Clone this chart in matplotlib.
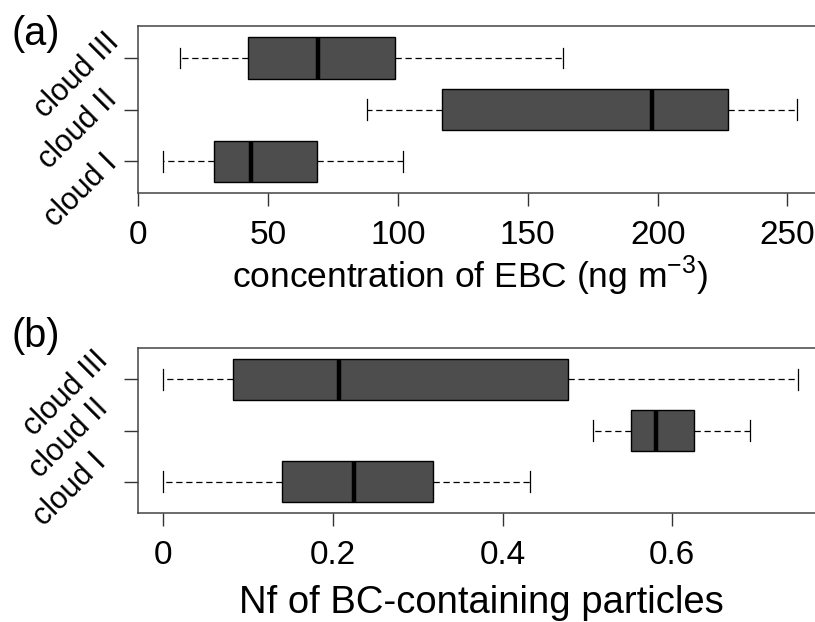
import matplotlib
matplotlib.use('Agg')
import matplotlib.pyplot as plt
from matplotlib.transforms import ScaledTranslation

plt.rcParams['font.family'] = ['Liberation Sans', 'DejaVu Sans']
plt.rcParams['mathtext.fontset'] = 'custom'
plt.rcParams['mathtext.rm'] = 'Liberation Sans'

# clouds, bottom to top
clouds = ['cloud I', 'cloud II', 'cloud III']

# (a) EBC concentration, ng m-3: whisker low, q1, median, q3, whisker high
ebc_lo = [9.6, 87.9, 16.1]
ebc_q1 = [29.3, 116.8, 42.4]
ebc_med = [43.4, 197.7, 69.3]
ebc_q3 = [68.9, 227.0, 98.8]
ebc_hi = [101.8, 253.8, 163.4]

# (b) number fraction of BC-containing particles
nf_lo = [0.0, 0.506, 0.0]
nf_q1 = [0.140, 0.551, 0.083]
nf_med = [0.225, 0.581, 0.207]
nf_q3 = [0.318, 0.626, 0.477]
nf_hi = [0.432, 0.691, 0.748]

ebc_ticks = [0, 50, 100, 150, 200, 250]
nf_ticks = [0, 0.2, 0.4, 0.6]
nf_ticklabels = ['0', '0.2', '0.4', '0.6']

# where the slanted labels end, pixels from (left axis, tick) -- hand placed
lab_off_a = [(-20, 3.5), (-20, -9.5), (-18, -14)]
lab_off_b = [(-30, -18), (-28, -21), (-28, -18)]


def make_stats(lo, q1, med, q3, hi):
    stats = []
    for i in range(len(lo)):
        stats.append(dict(whislo=lo[i], q1=q1[i], med=med[i], q3=q3[i], whishi=hi[i], fliers=[]))
    return stats


def draw_panel(ax, stats, ticks, ticklabels, xlim, xlabel, xlabel_size, lab_off):
    ax.bxp(stats, positions=[1, 2, 3], widths=0.8, vert=False, patch_artist=True,
           showfliers=False,
           boxprops=dict(facecolor='#4d4d4d', edgecolor='black', linewidth=1.0),
           medianprops=dict(color='black', linewidth=3.2, solid_capstyle='butt'),
           whiskerprops=dict(color='black', linewidth=0.9, linestyle=(0, (5, 3))),
           capprops=dict(color='black', linewidth=0.9),
           capwidths=0.4)
    ax.set_ylim(0.38, 3.62)
    ax.set_xlim(*xlim)
    ax.set_xticks(ticks)
    ax.set_xticklabels(ticklabels, fontsize=24)
    ax.set_yticks([1, 2, 3])
    ax.set_yticklabels([])
    ax.tick_params(axis='x', length=9, width=1.0, pad=10, color='#333333')
    ax.tick_params(axis='y', length=10, width=1.0, color='#333333')
    ax.spines['right'].set_visible(False)
    for s in ['left', 'top', 'bottom']:
        ax.spines[s].set_color('#444444')
        ax.spines[s].set_linewidth(1.1)
    ax.set_xlabel(xlabel, fontsize=xlabel_size)
    for i, name in enumerate(clouds):
        dx, dy = lab_off[i]
        tr = ax.get_yaxis_transform() + ScaledTranslation(dx / 100, -dy / 100, fig.dpi_scale_trans)
        ax.text(0, i + 1, name, transform=tr, fontsize=22, rotation=45,
                ha='right', va='baseline', rotation_mode='anchor', clip_on=False)


fig = plt.figure(figsize=(8.15, 6.22), dpi=100)
W, H = 815.0, 622.0

ax1 = fig.add_axes([138.3 / W, 1 - 193.3 / H, 1 - 138.3 / W, (193.3 - 26) / H])
draw_panel(ax1, make_stats(ebc_lo, ebc_q1, ebc_med, ebc_q3, ebc_hi), ebc_ticks,
           [str(t) for t in ebc_ticks], (0, 260.6),
           r'concentration of EBC (ng m$^{\mathregular{-3}}$)', 25.5, lab_off_a)
ax1.xaxis.set_label_coords(0.49, -(287.3 - 193.3) / (193.3 - 26))
ax1.xaxis.label.set_va('baseline')

ax2 = fig.add_axes([137.7 / W, 1 - 513.3 / H, 1 - 137.7 / W, (513.3 - 347.7) / H])
draw_panel(ax2, make_stats(nf_lo, nf_q1, nf_med, nf_q3, nf_hi), nf_ticks,
           nf_ticklabels, (-0.0298, 0.768), 'Nf of BC-containing particles', 27.5, lab_off_b)
ax2.xaxis.set_label_coords(0.5076, -(613 - 513.3) / (513.3 - 347.7))
ax2.xaxis.label.set_va('baseline')

fig.text(12 / W, 1 - 45 / H, '(a)', fontsize=28.5, va='baseline', ha='left')
fig.text(12 / W, 1 - 347 / H, '(b)', fontsize=28.5, va='baseline', ha='left')

fig.savefig('out.png', dpi=100)
